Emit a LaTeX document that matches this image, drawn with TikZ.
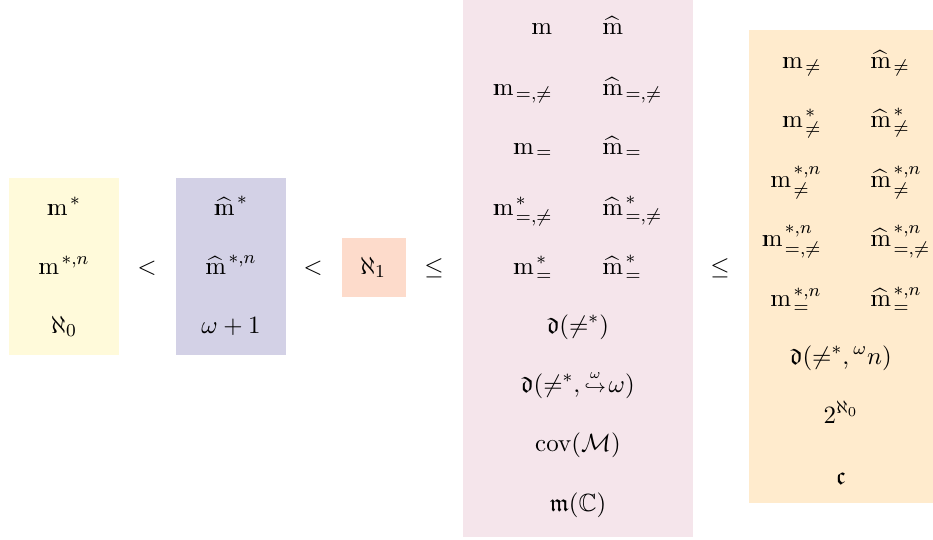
\documentclass[tikz,border=0pt]{standalone}
\usepackage{amsmath,amssymb}
\definecolor{cyel}{HTML}{FFFADA}
\definecolor{cpur}{HTML}{D3D1E6}
\definecolor{cora}{HTML}{FDDBCB}
\definecolor{cpink}{HTML}{F5E5EB}
\definecolor{cpeach}{HTML}{FFEBCD}
\newcommand\mmcore{\mathrm{m}\kern-0.833em\kern0.15em\rule{0.04em}{0.43em}\kern0.643em}
\newcommand\mmb{\mathord{\mmcore\kern0.1em}}
\newcommand\mmh{\mathord{\widehat{\mmcore}\kern0.1em}}
\newcommand\hkw{\mathrel{\overset{\scriptscriptstyle\omega}{\scriptstyle\hookrightarrow}}\!}
\tikzset{
  box/.style={inner sep=0pt, outer sep=0pt, anchor=north west},
  lbl/.style={inner sep=0pt, font=\fontsize{10.95}{13}\selectfont},
  lcol/.style={lbl, anchor=base east},
  rcol/.style={lbl, anchor=base west},
  ccol/.style={lbl, anchor=base},
}
\begin{document}
\begin{tikzpicture}[x=0.44pt,y=-0.44pt]
\useasboundingbox (0,0) rectangle (933,539);
% boxes
\node[box, fill=cyel, minimum width=110*0.44pt, minimum height=177*0.44pt] (byel) at (9,178) {};
\node[box, fill=cpur, minimum width=110*0.44pt, minimum height=177*0.44pt] (bpur) at (176,178) {};
\node[box, fill=cora, minimum width=64*0.44pt, minimum height=59*0.44pt] (bora) at (342,238) {};
\node[box, fill=cpink, minimum width=230*0.44pt, minimum height=537*0.44pt] (bpink) at (463,0) {};
\node[box, fill=cpeach, minimum width=184*0.44pt, minimum height=473*0.44pt] (bpeach) at (749,30) {};
% yellow
\node[ccol] (y1) at (64,215) {$\mmb^*$};
\node[ccol] (y2) at (64,274) {$\mmb^{*,n}$};
\node[ccol] (y3) at (64,333) {$\aleph_0$};
\node[ccol] (lt1) at (147,274) {$<$};
% purple
\node[ccol] (p1) at (231,215) {$\mmh^*$};
\node[ccol] (p2) at (231,274) {$\mmh^{*,n}$};
\node[ccol] (p3) at (231,333) {$\omega+1$};
\node[ccol] (lt2) at (313,274) {$<$};
% orange
\node[ccol] (a1) at (373,274) {$\aleph_1$};
\node[ccol] (le1) at (434,274) {$\leq$};
% pink
\node[lcol] (k1l) at (555,34) {$\mmb$};
\node[rcol] (k1r) at (602,34) {$\mmh$};
\node[lcol] (k2l) at (553,95) {$\mmb_{=,\neq}$};
\node[rcol] (k2r) at (602,95) {$\mmh_{=,\neq}$};
\node[lcol] (k3l) at (553,154) {$\mmb_{=}$};
\node[rcol] (k3r) at (602,154) {$\mmh_{=}$};
\node[lcol] (k4l) at (553,215) {$\mmb^*_{=,\neq}$};
\node[rcol] (k4r) at (602,215) {$\mmh^*_{=,\neq}$};
\node[lcol] (k5l) at (553,274) {$\mmb^*_{=}$};
\node[rcol] (k5r) at (602,274) {$\mmh^*_{=}$};
\node[ccol] (k6) at (578,333) {$\mathfrak{d}({\neq^*})$};
\node[ccol] (k7) at (578,392) {$\mathfrak{d}({\neq^*},\hkw\omega)$};
\node[ccol] (k8) at (578,451) {$\mathrm{cov}(\mathcal{M})$};
\node[ccol] (k9) at (578,511) {$\mathfrak{m}(\mathbb{C})$};
\node[ccol] (le2) at (720,274) {$\leq$};
% peach
\node[lcol] (e1l) at (822,68) {$\mmb_{\neq}$};
\node[rcol] (e1r) at (870,68) {$\mmh_{\neq}$};
\node[lcol] (e2l) at (822,127) {$\mmb^*_{\neq}$};
\node[rcol] (e2r) at (870,127) {$\mmh^*_{\neq}$};
\node[lcol] (e3l) at (822,187) {$\mmb^{*,n}_{\neq}$};
\node[rcol] (e3r) at (870,187) {$\mmh^{*,n}_{\neq}$};
\node[lcol] (e4l) at (822,246) {$\mmb^{*,n}_{=,\neq}$};
\node[rcol] (e4r) at (870,246) {$\mmh^{*,n}_{=,\neq}$};
\node[lcol] (e5l) at (822,306) {$\mmb^{*,n}_{=}$};
\node[rcol] (e5r) at (870,306) {$\mmh^{*,n}_{=}$};
\node[ccol] (e6) at (841,364) {$\mathfrak{d}({\neq^*},{}^{\omega}n)$};
\node[ccol] (e7) at (841,423) {$2^{\aleph_0}$};
\node[ccol] (e8) at (841,484) {$\mathfrak{c}$};
\end{tikzpicture}
\end{document}
